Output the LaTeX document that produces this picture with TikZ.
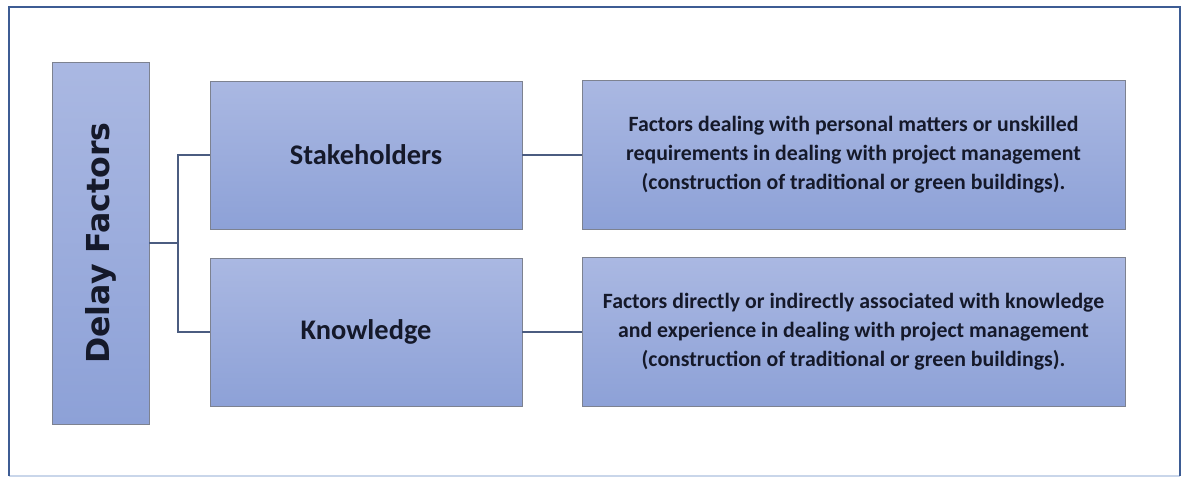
\documentclass[tikz,border=0pt]{standalone}
\usepackage{fontspec}
\setmainfont{Carlito}
\newfontfamily\titlefont{DejaVu Sans}
\usetikzlibrary{positioning}
\definecolor{FrameBlue}{HTML}{3D5C94}
\definecolor{FrameLight}{HTML}{C9D6EA}
\definecolor{BoxTop}{HTML}{AAB8E2}
\definecolor{BoxBottom}{HTML}{8DA1D7}
\definecolor{BoxBorder}{HTML}{7D8290}
\definecolor{LinkLine}{HTML}{4B5C80}
\definecolor{TextDark}{HTML}{15192A}
\tikzset{box/.style={draw=BoxBorder,top color=BoxTop,bottom color=BoxBottom,
 align=center,inner sep=0pt,text=TextDark,font=\bfseries},
 link/.style={draw=LinkLine,line width=0.8pt}}

\begin{document}
\begin{tikzpicture}[x=0.5pt,y=-0.5pt]
\useasboundingbox (0,0) rectangle (1186,477);
% outer frame
\draw[FrameLight,line width=0.8pt] (9,476)--(1180,476);
\draw[FrameBlue,line width=1.2pt] (9,476)--(9,7)--(1180,7)--(1180,476);
% boxes
\node[box,rotate=90,minimum width=181pt,minimum height=48.5pt,
 font=\titlefont\bfseries\fontsize{15.8}{18}\selectfont] (delay) at (100.5,243) {Delay Factors};
\node[box,minimum width=156pt,minimum height=74pt,
 font=\bfseries\fontsize{14.2}{17}\selectfont] (stake) at (366,155) {Stakeholders};
\node[box,minimum width=156pt,minimum height=74pt,
 font=\bfseries\fontsize{14.2}{17}\selectfont] (know) at (366,332) {Knowledge};
\node[box,minimum width=271.5pt,minimum height=74.5pt,
 font=\bfseries\fontsize{10.9}{14.5}\selectfont] (stakedesc) at (853.5,155)
 {Factors dealing with personal matters or unskilled\\
 requirements in dealing with project management\\
 (construction of traditional or green buildings).};
\node[box,minimum width=271.5pt,minimum height=74.5pt,
 font=\bfseries\fontsize{10.9}{14.5}\selectfont] (knowdesc) at (853.5,332)
 {Factors directly or indirectly associated with knowledge\\
 and experience in dealing with project management\\
 (construction of traditional or green buildings).};
% connectors
\coordinate (fork) at (178,243);
\draw[link] (delay.south) -- (fork);
\draw[link] (stake.west) -| (fork) |- (know.west);
\draw[link] (stake.east) -- (stakedesc.west);
\draw[link] (know.east) -- (knowdesc.west);
\end{tikzpicture}
\end{document}
